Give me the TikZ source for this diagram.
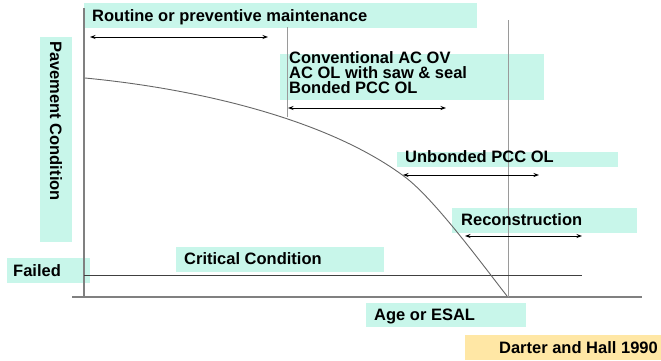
\documentclass[tikz,border=0pt]{standalone}
\usepackage{fontspec}
\setmainfont{Liberation Sans}
\usetikzlibrary{arrows.meta}
\definecolor{labelcyan}{RGB}{200,246,234}
\definecolor{labelsand}{RGB}{255,231,165}
\definecolor{axisgray}{RGB}{128,128,128}

\begin{document}
\begin{tikzpicture}[x=1pt,y=-1pt]
 \tikzstyle{every node}=[inner sep=0pt,anchor=base west,font=\fontsize{16.5}{15}\selectfont\bfseries]
 \tikzstyle{span}=[{Stealth[length=5.5pt,width=4pt]}-{Stealth[length=5.5pt,width=4pt]},line width=0.8pt,black]
 \tikzstyle{guide}=[axisgray!80,line width=0.9pt]
 \useasboundingbox (0,0) rectangle (661,360);
 % label backgrounds
 \fill[labelcyan] (84,3) rectangle (477,28);
 \fill[labelcyan] (280,54) rectangle (544,100);
 \fill[labelcyan] (397,152) rectangle (618,167);
 \fill[labelcyan] (452,208) rectangle (637,233);
 \fill[labelcyan] (176,247) rectangle (384,272);
 \fill[labelcyan] (7,258) rectangle (90,283);
 \fill[labelcyan] (40,37) rectangle (72,242);
 \fill[labelcyan] (366,303) rectangle (526,327);
 \fill[labelsand] (465,335) rectangle (661,360);
 % axes and guides
 \coordinate (ytop) at (84,8);
 \coordinate (ybot) at (84,298);
 \coordinate (xleft) at (72,297);
 \coordinate (xright) at (642,297);
 \coordinate (crit0) at (84,275);
 \coordinate (crit1) at (582,275);
 \coordinate (g1top) at (287,27);
 \coordinate (g1bot) at (287,117);
 \coordinate (g2top) at (508,20);
 \coordinate (g2bot) at (508,297);
 \draw[axisgray,line width=1.6pt] (ytop) -- (ybot) (xleft) -- (xright);
 \draw[guide] (g1top) -- (g1bot) (g2top) -- (g2bot);
 \draw[black!75,line width=0.9pt] (crit0) -- (crit1);
 % condition curve
 \coordinate (cstart) at (85,78);
 \coordinate (cmid) at (405,177);
 \coordinate (cend) at (507,296);
 \draw[black!60,line width=0.9pt] (cstart)
  .. controls (190,88) and (325,117) .. (cmid)
  .. controls (435,199.5) and (485,268) .. (cend);
 % treatment spans
 \coordinate (r0) at (90,37);   \coordinate (r1) at (268,37);
 \coordinate (c0) at (288,108); \coordinate (c1) at (446,108);
 \coordinate (u0) at (403,175); \coordinate (u1) at (539,175);
 \coordinate (k0) at (465,236); \coordinate (k1) at (582,236);
 \draw[span] (r0) -- (r1);
 \draw[span] (c0) -- (c1);
 \draw[span] (u0) -- (u1);
 \draw[span] (k0) -- (k1);
 % labels
 \node (routine) at (92,21) {Routine or preventive maintenance};
 \node (conv1) at (289,63) {Conventional AC OV};
 \node (conv2) at (289,78) {AC OL with saw \& seal};
 \node (conv3) at (289,93) {Bonded PCC OL};
 \node (unbonded) at (405,162) {Unbonded PCC OL};
 \node (recon) at (461,225) {Reconstruction};
 \node (critical) at (184,264) {Critical Condition};
 \node (failed) at (13,276) {Failed};
 \node (age) at (374,320) {Age or ESAL};
 \node[anchor=base east] (source) at (658,353) {Darter and Hall 1990};
 \node[rotate=-90,anchor=center] (pavement) at (56,121) {Pavement Condition};
\end{tikzpicture}
\end{document}
